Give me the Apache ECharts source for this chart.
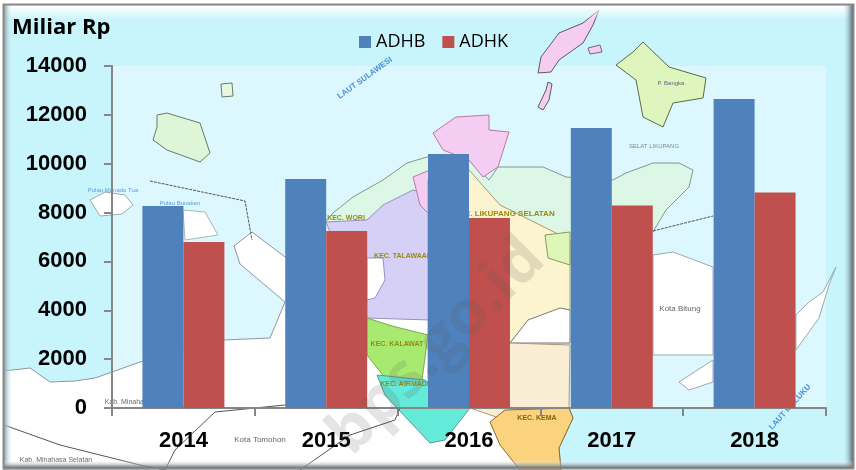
<!DOCTYPE html>
<html><head><meta charset="utf-8">
<style>html,body{margin:0;padding:0;background:#fff}#c{width:856px;height:470px}</style>
<script src="https://cdn.jsdelivr.net/npm/echarts@6/dist/echarts.min.js"></script>
</head><body><div id="c"></div>
<script>
const categories = ['2014','2015','2016','2017','2018'];
const adhb = [8270,9375,10400,11460,12650];
const adhk = [6795,7245,7780,8290,8820];
const seriesNames = ['ADHB','ADHK'];

// decorative backdrop map: [fill, stroke, points]
const mapShapes = [
 ['#ffffff','#8d9a9c',[[4,371],[30,368],[50,382],[75,381],[95,378],[112,372],[140,362],[224,340],[270,338],[285,302],[240,264],[234,246],[252,232],[285,257],[330,240],[400,300],[520,330],[569,408],[573,418],[559,448],[561,470],[4,470]]],
 ['#dcf7e6','#7f9a8c',[[325,222],[333,213],[353,197],[383,180],[407,163],[427,157],[469,160],[489,180],[498,167],[543,167],[566,177],[613,180],[626,173],[653,163],[679,163],[693,170],[689,187],[666,210],[653,232],[600,245],[510,245],[430,240]]],
 ['#d6d0f6','#9a8fc0',[[326,222],[367,220],[383,205],[413,190],[430,195],[430,320],[367,318],[367,262],[330,232]]],
 ['#ffffff','#9a8fc0',[[367,258],[383,258],[385,280],[375,298],[367,300]]],
 ['#f6cdf2','#b878a8',[[433,133],[456,117],[489,115],[489,130],[509,132],[498,167],[483,177],[469,160],[443,150]]],
 ['#f6cdf2','#b878a8',[[413,177],[430,170],[430,215],[420,205]]],
 ['#fbf4cf','#a89a70',[[469,170],[500,205],[540,225],[570,240],[570,310],[530,320],[510,343],[428,322],[428,180]]],
 ['#dcf7b8','#8a9a60',[[545,235],[570,232],[570,265],[548,258]]],
 ['#ffffff','#777777',[[510,343],[528,320],[560,308],[570,310],[570,343]]],
 ['#a8ea70','#7aa84c',[[367,318],[392,326],[428,335],[422,380],[385,378],[367,355]]],
 ['#faedd5','#a89a70',[[428,322],[510,343],[570,345],[569,408],[505,420],[470,408],[428,380]]],
 ['#63ead9','#5a9a94',[[377,375],[425,380],[470,408],[445,440],[430,443],[397,408],[385,395]]],
 ['#fbd27e','#8a6a3c',[[505,410],[569,408],[573,418],[559,448],[561,470],[520,470],[500,445],[490,422]]],
 ['#f6cdf2','#5b5b5b',[[538,73],[541,57],[559,33],[583,23],[599,10],[593,25],[583,43],[559,60],[551,72]]],
 ['#f6cdf2','#5b5b5b',[[548,82],[552,84],[549,100],[543,110],[538,107],[546,90]]],
 ['#f6cdf2','#6b6b6b',[[588,48],[600,45],[602,52],[590,54]]],
 ['#def5bd','#5b6b4b',[[616,65],[633,52],[643,42],[669,67],[706,78],[703,98],[673,103],[663,127],[643,117],[636,80]]],
 ['#def5d8','#6b7b6b',[[157,115],[167,113],[180,117],[200,123],[210,153],[200,162],[167,150],[153,140],[157,127]]],
 ['#e8f8e0','#6b7b6b',[[221,84],[232,83],[233,96],[222,97]]],
 ['#ffffff','#9aaaac',[[90,200],[105,192],[125,195],[133,205],[122,214],[100,216]]],
 ['#ffffff','#a8b8b8',[[183,210],[205,212],[218,235],[185,240]]],
 ['#ffffff','#9aaaac',[[653,255],[673,252],[713,267],[713,355],[653,355]]],
 ['#ffffff','#9aaaac',[[713,360],[679,382],[689,390],[713,382]]],
 ['#ffffff','#9aaaac',[[836,267],[823,292],[809,302],[796,315],[796,350],[819,318],[829,285]]]
];
const mapLabels = [
 ['LAUT SULAWESI',365,78,-36,'#4a90d9',8,'bold'],
 ['LAUT MALUKU',790,407,-48,'#4a90d9',8,'bold'],
 ['Kota Bitung',680,309,0,'#666',8,'normal'],
 ['Kota Tomohon',260,440,0,'#666',8,'normal'],
 ['Kab. Minahasa Selatan',56,460,0,'#666',7,'normal'],
 ['Kab. Minahasa',128,402,0,'#666',7,'normal'],
 ['KEC. WORI',346,218,0,'#9a8a10',7,'bold'],
 ['KEC. TALAWAAN',403,256,0,'#9a8a10',7,'bold'],
 ['KEC. KALAWAT',397,344,0,'#9a8a10',7,'bold'],
 ['KEC. AIRMADIDI',408,384,0,'#9a8a10',7,'bold'],
 ['KEC. LIKUPANG SELATAN',504,214,0,'#9a8a10',8,'bold'],
 ['KEC. KEMA',537,418,0,'#7a6a10',7,'bold'],
 ['SELAT LIKUPANG',654,146,0,'#7a8a9a',6,'normal'],
 ['Pulau Manado Tua',113,190,0,'#5aa0d8',6,'normal'],
 ['Pulau Bunaken',180,203,0,'#5aa0d8',6,'normal'],
 ['P. Bangka',671,83,0,'#667',6,'normal']
];

const el = [];
const V = (a,b)=>({type:'linear',x:0,y:0,x2:0,y2:1,colorStops:[{offset:0,color:a},{offset:1,color:b}]});
const H = (a,b)=>({type:'linear',x:0,y:0,x2:1,y2:0,colorStops:[{offset:0,color:a},{offset:1,color:b}]});
el.push({type:'rect',z:-9,shape:{x:0,y:0,width:856,height:470},style:{fill:'#ffffff'}});
el.push({type:'rect',z:-9,shape:{x:3,y:4,width:848,height:463},style:{fill:'#c8f4fc'}});
el.push({type:'rect',z:-9,shape:{x:112,y:66,width:714,height:342},style:{fill:'#dcf7fd'}});
mapShapes.forEach(s=>el.push({type:'polygon',z:-8,shape:{points:s[2]},style:{fill:s[0],stroke:s[1],lineWidth:1}}));
el.push({type:'polyline',z:-8,shape:{points:[[150,181],[245,201],[252,240]]},style:{stroke:'#555',lineWidth:1,lineDash:[3,1],fill:null}});
el.push({type:'polyline',z:-8,shape:{points:[[653,231],[713,216]]},style:{stroke:'#555',lineWidth:1,lineDash:[3,1],fill:null}});
el.push({type:'polyline',z:-8,shape:{points:[[4,425],[60,445],[140,465],[165,470]]},style:{stroke:'#555',lineWidth:1,fill:null}});
el.push({type:'polyline',z:-8,shape:{points:[[165,470],[175,450],[215,412],[285,405]]},style:{stroke:'#555',lineWidth:1,fill:null}});
el.push({type:'polyline',z:-8,shape:{points:[[300,470],[350,435],[395,420],[400,408]]},style:{stroke:'#555',lineWidth:1,fill:null}});
mapLabels.forEach(l=>el.push({type:'text',z:-7,x:l[1],y:l[2],rotation:l[3]*-Math.PI/180,style:{text:l[0],fill:l[4],font:l[6]+' '+l[5]+'px "Liberation Sans"',textAlign:'center',textVerticalAlign:'middle'}}));
// bevel frame
el.push({type:'rect',z:-6,shape:{x:3,y:6,width:848,height:14},style:{fill:V('#ffffff','rgba(255,255,255,0)')}});
el.push({type:'rect',z:-6,shape:{x:4,y:5,width:8,height:462},style:{fill:H('#8f9ea2','rgba(200,244,252,0)')}});
el.push({type:'rect',z:-6,shape:{x:843,y:5,width:10,height:462},style:{fill:H('rgba(200,244,252,0)','#4d5f66')}});
el.push({type:'rect',z:-6,shape:{x:3,y:460,width:850,height:8},style:{fill:V('rgba(255,255,255,0)','#59666b')}});
el.push({type:'rect',z:-6,shape:{x:3.5,y:4.5,width:850,height:464},style:{fill:null,stroke:'#8a8a8a',lineWidth:2}});
el.push({type:'text',z:-5,x:12,y:28,style:{text:'Miliar Rp',fill:'#000',font:'bold 22px "Open Sans"',textVerticalAlign:'middle'}});
// faint watermark lying over the bars
el.push({type:'text',z:50,x:437,y:347,rotation:Math.PI/4,style:{text:'bps.go.id',fill:'rgba(90,90,90,0.16)',font:'bold 62px "Open Sans"',textAlign:'center',textVerticalAlign:'middle'}});

const chart = echarts.init(document.getElementById('c'),null,{renderer:'canvas'});
chart.setOption({
 animation:false,
 backgroundColor:'#ffffff',
 graphic:{elements:el},
 legend:{left:359,top:33,padding:0,itemWidth:12,itemHeight:12,itemGap:17,icon:'rect',data:seriesNames,
   textStyle:{color:'#000',fontSize:18,fontFamily:'"Open Sans"'}},
 grid:{left:112,right:30,top:66,bottom:62},
 xAxis:{type:'category',data:categories,
   axisLine:{lineStyle:{color:'#868686',width:2}},
   axisTick:{show:true,length:8,lineStyle:{color:'#868686',width:2}},
   axisLabel:{color:'#000',fontSize:22,fontWeight:'bold',fontFamily:'"Liberation Sans"',margin:22}},
 yAxis:{type:'value',min:0,max:14000,interval:2000,
   axisLine:{show:true,lineStyle:{color:'#868686',width:2}},
   axisTick:{show:true,length:8,lineStyle:{color:'#868686',width:2}},
   splitLine:{show:false},
   axisLabel:{color:'#000',fontSize:22,fontWeight:'bold',fontFamily:'"Liberation Sans"',margin:25,formatter:v=>String(v)}},
 series:[
  {name:seriesNames[0],type:'bar',data:adhb,barGap:0,barCategoryGap:'42.6%',itemStyle:{color:'#4f81bd'}},
  {name:seriesNames[1],type:'bar',data:adhk,itemStyle:{color:'#c0504d'}}
 ]
});
</script></body></html>
